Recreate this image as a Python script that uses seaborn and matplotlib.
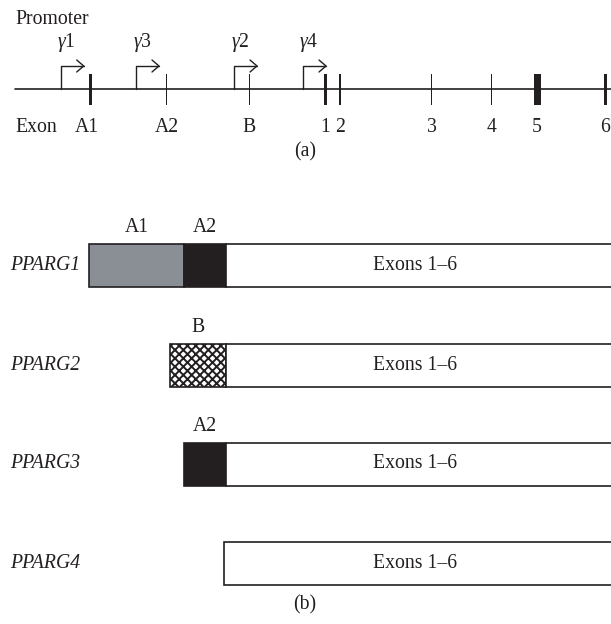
import matplotlib
matplotlib.use("Agg")
import matplotlib.pyplot as plt
import seaborn as sns

# ---- panel (a): gene layout (positions along the locus, drawing units) ----
exon_labels = ["A1", "A2", "B", "1", "2", "3", "4", "5", "6"]
exon_pos = [90.7, 166.7, 249, 325.7, 340, 431.7, 491.7, 537, 605.5]
exon_len = [3.4, 1.0, 1.0, 3.0, 1.2, 1.2, 1.5, 7.0, 3.0]

promoter_labels = ["1", "3", "2", "4"]
promoter_pos = [60.7, 136, 234, 303]

# ---- panel (b): transcript isoforms, (label, start, end, kind) ----
isoform_names = ["PPARG1", "PPARG2", "PPARG3", "PPARG4"]
isoform_segments = [
    [("A1", 89, 184, "grey"), ("A2", 184, 226, "black"), ("Exons 1–6", 226, 614, "white")],
    [("B", 170, 226, "dots"), ("Exons 1–6", 226, 614, "white")],
    [("A2", 184, 226, "black"), ("Exons 1–6", 226, 614, "white")],
    [("Exons 1–6", 224, 614, "white")],
]

sns.set_theme(style="white")
plt.rcParams["font.family"] = ["Liberation Serif", "DejaVu Serif"]
plt.rcParams["mathtext.fontset"] = "custom"
plt.rcParams["mathtext.rm"] = "Liberation Serif"
plt.rcParams["mathtext.it"] = "Liberation Serif:italic"
plt.rcParams["hatch.linewidth"] = 1.4
FS = 14.2

fig = plt.figure(figsize=(6.11, 6.24), dpi=100)
ax = fig.add_axes([0, 0, 1, 1])
ax.set_xlim(0, 611)
ax.set_ylim(624, 0)
ax.axis("off")

ink = "#231f20"
line_y = 89

# main locus line
sns.lineplot(x=[15, 611], y=[line_y, line_y], ax=ax, color=ink, lw=1.2)

# exons
for lab, x, w in zip(exon_labels, exon_pos, exon_len):
    ax.add_patch(plt.Rectangle((x - w / 2, 74), w, 31, color=ink, lw=0))
    dx = -4 if lab == "A1" else 0
    ax.text(x + dx, 127, lab, ha="center", va="center", fontsize=FS, color=ink)

# promoters (bent arrows)
for lab, x in zip(promoter_labels, promoter_pos):
    top = 66
    ax.plot([x, x, x + 23], [line_y, top, top], color=ink, lw=1.0)
    ax.plot([x + 16, x + 23, x + 16], [top - 6, top, top + 6], color=ink, lw=1.0)
    ax.text(x + 6, 43, r"$\gamma$" + lab, ha="center", va="center", fontsize=FS, color=ink)

ax.text(15, 20, "Promoter", ha="left", va="center", fontsize=FS, color=ink)
ax.text(15, 127, "Exon", ha="left", va="center", fontsize=FS, color=ink)
ax.text(305, 152, "(a)", ha="center", va="center", fontsize=FS, color=ink)

# isoforms
row_y = [265.5, 365, 464, 563.5]
bar_h = 43
fills = {"grey": "#898f95", "black": ink, "white": "white", "dots": "white"}
for name, y, segs in zip(isoform_names, row_y, isoform_segments):
    ax.text(10, y, name, ha="left", va="center", fontsize=FS, color=ink, style="italic")
    for lab, x0, x1, kind in segs:
        rect = plt.Rectangle((x0, y - bar_h / 2), x1 - x0, bar_h,
                             facecolor=fills[kind], edgecolor=ink, lw=1.2,
                             hatch="xxxx" if kind == "dots" else None)
        ax.add_patch(rect)
        if kind == "white":
            ax.text(415, y, lab, ha="center", va="center", fontsize=FS, color=ink)
        else:
            ax.text((x0 + x1) / 2, y - bar_h / 2 - 16, lab, ha="center", va="center",
                    fontsize=FS, color=ink)

ax.text(305, 605, "(b)", ha="center", va="center", fontsize=FS, color=ink)

fig.savefig("out.png", dpi=100)
